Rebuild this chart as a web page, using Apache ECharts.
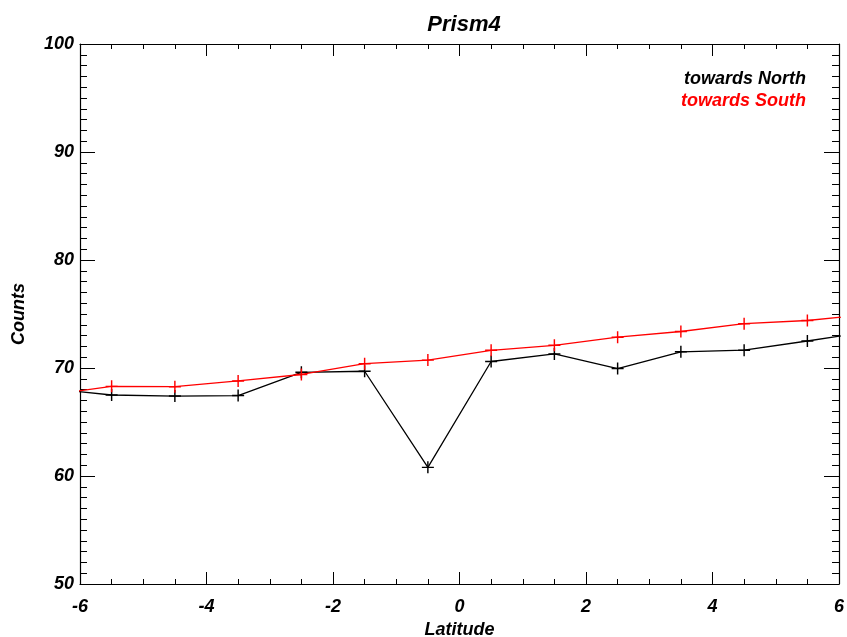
<!DOCTYPE html>
<html><head><meta charset="utf-8">
<script src="https://cdn.jsdelivr.net/npm/echarts@6/dist/echarts.min.js"></script>
<style>html,body{margin:0;padding:0;background:#fff;overflow:hidden}#c{width:847px;height:637px}</style>
</head><body><div id="c"></div>
<script>
const latitude = [-6.5, -5.5, -4.5, -3.5, -2.5, -1.5, -0.5, 0.5, 1.5, 2.5, 3.5, 4.5, 5.5, 6.5];
const north = [68.1, 67.5, 67.4, 67.45, 69.6, 69.7, 60.8, 70.6, 71.3, 69.95, 71.5, 71.65, 72.5, 73.4];
const south = [67.5, 68.3, 68.27, 68.8, 69.4, 70.4, 70.73, 71.64, 72.1, 72.85, 73.38, 74.1, 74.4, 75.0];
const xTicks = [-6, 6, 2];
const yTicks = [50, 100, 10];
const seriesNames = ['towards North', 'towards South'];

const FONT = 'Liberation Sans';
const plus = 'path://M4.4,0 H5.6 V4.4 H10 V5.6 H5.6 V10 H4.4 V5.6 H0 V4.4 H4.4 Z';
function mk(xs, ys, color, name) {
  return {
    name: name, type: 'line', clip: true, data: xs.map((x, i) => ({
      value: [x, ys[i]],
      symbol: (x < xTicks[0] || x > xTicks[1]) ? 'none' : plus
    })),
    symbolSize: 12, showSymbol: true,
    lineStyle: { color: color, width: 1.3 },
    itemStyle: { color: color },
    animation: false, z: 3
  };
}
const axLine = { show: true, onZero: false, lineStyle: { color: '#000', width: 1.2 } };
const tickStyle = { color: '#000', width: 1 };
function xAx(pos, labels) {
  return {
    type: 'value', position: pos, min: xTicks[0], max: xTicks[1], interval: xTicks[2],
    axisLine: axLine,
    axisTick: { show: true, inside: true, length: 12, lineStyle: tickStyle },
    minorTick: { show: true, splitNumber: 4, length: 5, lineStyle: tickStyle },
    splitLine: { show: false },
    axisLabel: { show: labels, margin: 14, color: '#000', fontFamily: FONT, fontStyle: 'italic', fontWeight: 'bold', fontSize: 18 },
    name: labels ? 'Latitude' : '', nameLocation: 'middle', nameGap: 33,
    nameTextStyle: { color: '#000', fontFamily: FONT, fontStyle: 'italic', fontWeight: 'bold', fontSize: 18 }
  };
}
function yAx(pos, labels) {
  return {
    type: 'value', position: pos, min: yTicks[0], max: yTicks[1], interval: yTicks[2],
    axisLine: axLine,
    axisTick: { show: true, inside: true, length: 15, lineStyle: tickStyle },
    minorTick: { show: true, splitNumber: 10, length: 7, lineStyle: tickStyle },
    splitLine: { show: false },
    axisLabel: { show: labels, margin: 6, color: '#000', fontFamily: FONT, fontStyle: 'italic', fontWeight: 'bold', fontSize: 18 },
    name: labels ? 'Counts' : '', nameLocation: 'middle', nameGap: 52, nameRotate: 90,
    nameTextStyle: { color: '#000', fontFamily: FONT, fontStyle: 'italic', fontWeight: 'bold', fontSize: 18 }
  };
}
const chart = echarts.init(document.getElementById('c'), null, { renderer: 'canvas' });
chart.setOption({
  animation: false,
  backgroundColor: '#fff',
  title: { text: 'Prism4', left: 459, top: 9, textAlign: 'center',
    textStyle: { color: '#000', fontFamily: FONT, fontStyle: 'italic', fontWeight: 'bold', fontSize: 22 } },
  grid: { left: 80, right: 8, top: 44, bottom: 53, containLabel: false, outerBoundsMode: 'none' },
  xAxis: [xAx('bottom', true), xAx('top', false)],
  yAxis: [yAx('left', true), yAx('right', false)],
  series: [mk(latitude, north, '#000', seriesNames[0]), mk(latitude, south, '#ff0000', seriesNames[1])],
  graphic: [
    { type: 'text', right: 41, top: 70, style: { text: seriesNames[0], fill: '#000', font: 'italic bold 18px "Liberation Sans"', textAlign: 'right' } },
    { type: 'text', right: 41, top: 92, style: { text: seriesNames[1], fill: '#ff0000', font: 'italic bold 18px "Liberation Sans"', textAlign: 'right' } }
  ]
});
</script></body></html>
